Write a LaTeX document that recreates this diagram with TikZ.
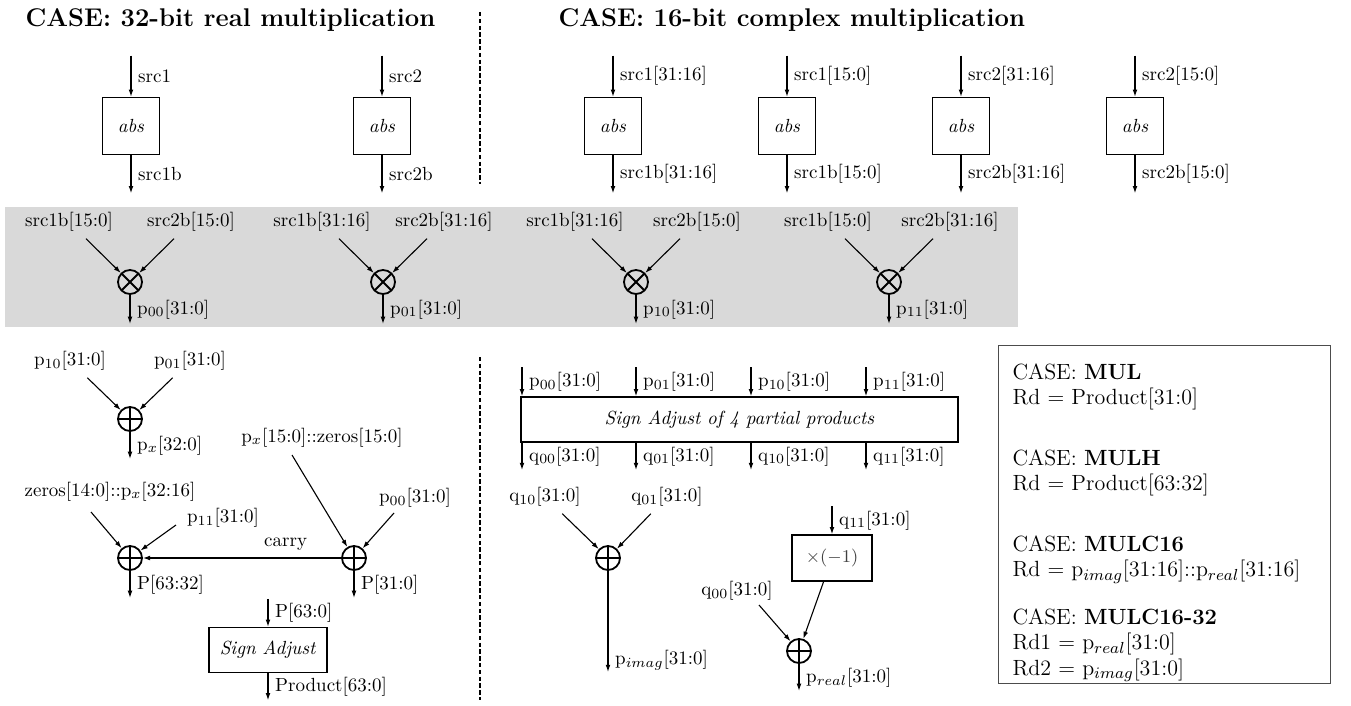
\documentclass[tikz,border=0pt]{standalone}
\usetikzlibrary{arrows.meta, positioning}

\begin{document}
\begin{tikzpicture}[x=0.5pt, y=0.5pt, line width=0.55pt, >={Latex[length=3.6pt, width=2.4pt]},
	every node/.style={font=\fontsize{9.5}{11}\selectfont},
	blk/.style={draw, line width=0.75pt, inner sep=0pt},
	absbox/.style={blk, minimum size=28.5pt},
	mul/.style={circle, draw, line width=0.9pt, minimum size=12pt, inner sep=0pt, path picture={
		\draw[line width=0.9pt] (path picture bounding box.north west) -- (path picture bounding box.south east)
			(path picture bounding box.north east) -- (path picture bounding box.south west);}},
	add/.style={circle, draw, line width=0.9pt, minimum size=12pt, inner sep=0pt, path picture={
		\draw[line width=0.9pt] (path picture bounding box.north) -- (path picture bounding box.south)
			(path picture bounding box.west) -- (path picture bounding box.east);}},
	title/.style={font=\fontsize{12.8}{15}\selectfont\bfseries, anchor=base west, inner sep=0pt},
	sep/.style={line width=1pt, dash pattern=on 2.2pt off 1.2pt}]
	\useasboundingbox (0,0) rectangle (1351,-706);

	% Titles
	\node[title] (t1) at (25,-27) {CASE: 32-bit real multiplication};
	\node[title] (t2) at (558,-27) {CASE: 16-bit complex multiplication};

	% Separators
	\draw[sep] (480,-12) -- (480,-184);
	\draw[sep] (480,-357) -- (480,-700);

	% Shaded band
	\fill[gray!30] (5,-207) rectangle (1018,-327);

	% abs blocks
	\node[absbox] (abs1) at (131,-126) {\textit{abs}};
	\node[absbox] (abs2) at (382,-126) {\textit{abs}};
	\node[absbox] (abs3) at (613,-126) {\textit{abs}};
	\node[absbox] (abs4) at (787,-126) {\textit{abs}};
	\node[absbox] (abs5) at (961,-126) {\textit{abs}};
	\node[absbox] (abs6) at (1135,-126) {\textit{abs}};

	\coordinate[above=20.5pt of abs1] (in1);
	\coordinate[above=20.5pt of abs2] (in2);
	\coordinate[above=20.5pt of abs3] (in3);
	\coordinate[above=20.5pt of abs4] (in4);
	\coordinate[above=20.5pt of abs5] (in5);
	\coordinate[above=20.5pt of abs6] (in6);
	\coordinate[below=19pt of abs1] (out1);
	\coordinate[below=19pt of abs2] (out2);
	\coordinate[below=19pt of abs3] (out3);
	\coordinate[below=19pt of abs4] (out4);
	\coordinate[below=19pt of abs5] (out5);
	\coordinate[below=19pt of abs6] (out6);

	\draw[->] (in1) -- (abs1) node[midway, right] {src1};
	\draw[->] (in2) -- (abs2) node[midway, right] {src2};
	\draw[->] (in3) -- (abs3) node[midway, right] {src1[31:16]};
	\draw[->] (in4) -- (abs4) node[midway, right] {src1[15:0]};
	\draw[->] (in5) -- (abs5) node[midway, right] {src2[31:16]};
	\draw[->] (in6) -- (abs6) node[midway, right] {src2[15:0]};
	\draw[->] (abs1) -- (out1) node[midway, right] {src1b};
	\draw[->] (abs2) -- (out2) node[midway, right] {src2b};
	\draw[->] (abs3) -- (out3) node[midway, right] {src1b[31:16]};
	\draw[->] (abs4) -- (out4) node[midway, right] {src1b[15:0]};
	\draw[->] (abs5) -- (out5) node[midway, right] {src2b[31:16]};
	\draw[->] (abs6) -- (out6) node[midway, right] {src2b[15:0]};

	% Partial products
	\node[mul] (m00) at (130,-282) {};
	\node[mul] (m01) at (383,-282) {};
	\node[mul] (m10) at (636,-282) {};
	\node[mul] (m11) at (889,-282) {};
	\node (a00) at (69,-222) {src1b[15:0]};
	\node (b00) at (191,-222) {src2b[15:0]};
	\node (a01) at (322,-222) {src1b[31:16]};
	\node (b01) at (444,-222) {src2b[31:16]};
	\node (a10) at (575,-222) {src1b[31:16]};
	\node (b10) at (697,-222) {src2b[15:0]};
	\node (a11) at (828,-222) {src1b[15:0]};
	\node (b11) at (950,-222) {src2b[31:16]};
	\coordinate[below=14.5pt of m00] (p00);
	\coordinate[below=14.5pt of m01] (p01);
	\coordinate[below=14.5pt of m10] (p10);
	\coordinate[below=14.5pt of m11] (p11);

	\draw[->] (a00) -- (m00);
	\draw[->] (b00) -- (m00);
	\draw[->] (a01) -- (m01);
	\draw[->] (b01) -- (m01);
	\draw[->] (a10) -- (m10);
	\draw[->] (b10) -- (m10);
	\draw[->] (a11) -- (m11);
	\draw[->] (b11) -- (m11);
	\draw[->] (m00) -- (p00) node[midway, right] {p$_{00}$[31:0]};
	\draw[->] (m01) -- (p01) node[midway, right] {p$_{01}$[31:0]};
	\draw[->] (m10) -- (p10) node[midway, right] {p$_{10}$[31:0]};
	\draw[->] (m11) -- (p11) node[midway, right] {p$_{11}$[31:0]};

	% 32-bit real: summing
	\node[add] (sx) at (130,-419) {};
	\node (l10) at (70,-361) {p$_{10}$[31:0]};
	\node (l01) at (190,-361) {p$_{01}$[31:0]};
	\coordinate[below=13.5pt of sx] (px);
	\draw[->] (l10) -- (sx);
	\draw[->] (l01) -- (sx);
	\draw[->] (sx) -- (px) node[midway, right] {p$_x$[32:0]};

	\node[add] (shi) at (130,-558) {};
	\node[add] (slo) at (354,-558) {};
	\node (lz) at (110,-492) {zeros[14:0]::p$_x$[32:16]};
	\node (l11) at (223,-518) {p$_{11}$[31:0]};
	\node (lpx) at (322,-438) {p$_x$[15:0]::zeros[15:0]};
	\node (l00) at (415,-498) {p$_{00}$[31:0]};
	\coordinate (tz) at (91,-512);
	\coordinate (t11) at (176,-525);
	\coordinate (tpx) at (292,-455);
	\coordinate (t00) at (394,-513);
	\coordinate[below=13.5pt of shi] (phi);
	\coordinate[below=13.5pt of slo] (plo);

	\draw[->] (tz) -- (shi);
	\draw[->] (t11) -- (shi);
	\draw[->] (tpx) -- (slo);
	\draw[->] (t00) -- (slo);
	\draw[->] (slo) -- (shi) node[pos=0.28, above] {carry};
	\draw[->] (shi) -- (phi) node[midway, right] {P[63:32]};
	\draw[->] (slo) -- (plo) node[midway, right] {P[31:0]};

	\node[blk, minimum width=59pt, minimum height=22.5pt] (sadj) at (268,-650) {\textit{Sign Adjust}};
	\coordinate[above=14pt of sadj] (pin);
	\coordinate[below=13.5pt of sadj] (prod);
	\draw[->] (pin) -- (sadj) node[midway, right] {P[63:0]};
	\draw[->] (sadj) -- (prod) node[midway, right] {Product[63:0]};

	% 16-bit complex: sign adjust
	\node[blk, minimum width=218.5pt, minimum height=22.5pt] (sadj4) at (739.5,-419.5) {\textit{Sign Adjust of 4 partial products}};
	\coordinate (i00) at (522,-367);
	\coordinate (i01) at (636,-367);
	\coordinate (i10) at (751,-367);
	\coordinate (i11) at (866,-367);
	\coordinate (o00) at (522,-470);
	\coordinate (o01) at (636,-470);
	\coordinate (o10) at (751,-470);
	\coordinate (o11) at (866,-470);

	\draw[->] (i00) -- (i00 |- sadj4.north) node[midway, right] {p$_{00}$[31:0]};
	\draw[->] (i01) -- (i01 |- sadj4.north) node[midway, right] {p$_{01}$[31:0]};
	\draw[->] (i10) -- (i10 |- sadj4.north) node[midway, right] {p$_{10}$[31:0]};
	\draw[->] (i11) -- (i11 |- sadj4.north) node[midway, right] {p$_{11}$[31:0]};
	\draw[->] (o00 |- sadj4.south) -- (o00) node[midway, right] {q$_{00}$[31:0]};
	\draw[->] (o01 |- sadj4.south) -- (o01) node[midway, right] {q$_{01}$[31:0]};
	\draw[->] (o10 |- sadj4.south) -- (o10) node[midway, right] {q$_{10}$[31:0]};
	\draw[->] (o11 |- sadj4.south) -- (o11) node[midway, right] {q$_{11}$[31:0]};

	% Imaginary part
	\node[add] (sim) at (608,-558) {};
	\node (q10l) at (545,-497) {q$_{10}$[31:0]};
	\node (q01l) at (667,-497) {q$_{01}$[31:0]};
	\coordinate (pim) at (608,-672);
	\draw[->] (q10l) -- (sim);
	\draw[->] (q01l) -- (sim);
	\draw[->] (sim) -- (pim) node[pos=0.88, right] {p$_{imag}$[31:0]};

	% Real part
	\node[blk, minimum width=40pt, minimum height=23pt, text=black!75] (neg) at (832,-558) {$\times(-1)$};
	\coordinate[above=14pt of neg] (q11in);
	\draw[->] (q11in) -- (neg) node[midway, right] {q$_{11}$[31:0]};
	\node[add] (sre) at (799,-651) {};
	\node (q00l) at (737,-591) {q$_{00}$[31:0]};
	\coordinate (tq00) at (759,-605);
	\coordinate[below=13.5pt of sre] (pre);
	\draw[->] (tq00) -- (sre);
	\draw[->] (neg) -- (sre);
	\draw[->] (sre) -- (pre) node[midway, right] {p$_{real}$[31:0]};

	% Result cases
	\node[draw=black!70, line width=0.6pt, minimum width=166pt, minimum height=169pt, anchor=north west] (cases) at (998,-345) {};
	\node[anchor=north west, inner sep=0pt, align=left, font=\fontsize{11}{12.75}\selectfont] (casetxt) at (1012,-363) {CASE: \textbf{MUL}\\
		Rd = Product[31:0]\\[17.5pt]
		CASE: \textbf{MULH}\\
		Rd = Product[63:32]\\[17.5pt]
		CASE: \textbf{MULC16}\\
		Rd = p$_{imag}$[31:16]::p$_{real}$[31:16]\\[11pt]
		CASE: \textbf{MULC16-32}\\
		Rd1 = p$_{real}$[31:0]\\
		Rd2 = p$_{imag}$[31:0]};
\end{tikzpicture}
\end{document}
